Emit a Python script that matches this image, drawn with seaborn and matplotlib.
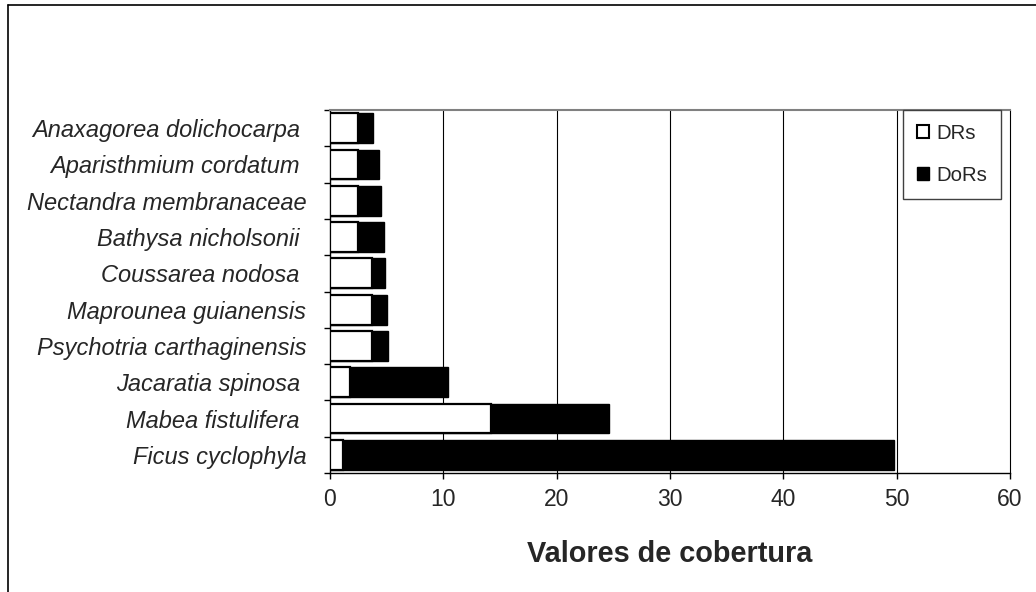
import matplotlib
matplotlib.use("Agg")
import matplotlib.pyplot as plt
from matplotlib.patches import Patch
from matplotlib.lines import Line2D
import seaborn as sns
import numpy as np

species = ["Anaxagorea dolichocarpa ", "Aparisthmium cordatum ", "Nectandra membranaceae",
           "Bathysa nicholsonii ", "Coussarea nodosa ", "Maprounea guianensis",
           "Psychotria carthaginensis", "Jacaratia spinosa ", "Mabea fistulifera ",
           "Ficus cyclophyla"]
drs = [2.44, 2.44, 2.44, 2.44, 3.68, 3.68, 3.68, 1.8, 14.2, 1.17]
dors = [1.38, 1.91, 2.09, 2.36, 1.17, 1.32, 1.47, 8.64, 10.4, 48.6]
xticks = [0, 10, 20, 30, 40, 50, 60]
xlabel = "Valores de cobertura"
legend_labels = ["DRs", "DoRs"]

sns.set_style("white")
plt.rcParams["font.family"] = ["Liberation Sans", "DejaVu Sans"]

W, H = 1036, 592
fig = plt.figure(figsize=(W / 100, H / 100), dpi=100)
ax = fig.add_axes([330 / W, 1 - 473 / H, (1010 - 330) / W, (473 - 110) / H])

totals = np.array(drs) + np.array(dors)
sns.barplot(x=totals, y=species, orient="h", color="black", saturation=1,
            width=0.82, edgecolor="black", linewidth=1.0, ax=ax, zorder=2)
sns.barplot(x=drs, y=species, orient="h", color="white", saturation=1,
            width=0.82, edgecolor="black", linewidth=1.6, ax=ax, zorder=3)

ax.set_xlim(0, 60)
ax.set_ylim(len(species) - 0.5, -0.5)
ax.set_xticks(xticks)
ax.set_xticklabels([str(t) for t in xticks], fontsize=16.5)
ax.tick_params(axis="x", direction="out", length=4, width=1, color="black", pad=7, bottom=True)
ax.set_yticks(range(len(species)))
ax.set_yticklabels(species, fontsize=17, style="italic")
ax.tick_params(axis="y", which="major", length=0, pad=17)
ax.set_yticks(np.arange(-0.5, len(species), 1.0), minor=True)
ax.tick_params(axis="y", which="minor", direction="out", length=4.5, width=1, color="black", left=True)

ax.set_axisbelow(True)
ax.grid(False)
for xv in xticks[1:-1]:
    ax.axvline(xv, color="black", linewidth=0.8, zorder=0)

for s in ["left", "bottom"]:
    ax.spines[s].set_color("black")
    ax.spines[s].set_linewidth(1.0)
ax.spines["right"].set_color("black")
ax.spines["right"].set_linewidth(0.8)
ax.spines["top"].set_color("#808080")
ax.spines["top"].set_linewidth(1.5)

ax.set_xlabel(xlabel, fontsize=20.8, fontweight="bold", labelpad=21)
ax.set_ylabel("")

handles = [Patch(facecolor="white", edgecolor="black", linewidth=1.5),
           Patch(facecolor="black", edgecolor="black")]
leg = fig.legend(handles, legend_labels, loc="upper left",
                 bbox_to_anchor=(903 / W, 1 - 110 / H), bbox_transform=fig.transFigure,
                 fontsize=14.7, frameon=True, fancybox=False, framealpha=1,
                 edgecolor="#404040", handlelength=0.6, handleheight=0.6,
                 handletextpad=0.35, labelspacing=1.15, borderpad=0.67, borderaxespad=0)
leg.get_frame().set_linewidth(1.0)

fig.add_artist(Line2D([8 / W, 8 / W], [0, 1 - 5 / H], transform=fig.transFigure,
                      color="black", linewidth=1.2))
fig.add_artist(Line2D([8 / W, 1], [1 - 5 / H, 1 - 5 / H], transform=fig.transFigure,
                      color="black", linewidth=1.2))

fig.savefig("out.png", dpi=100)
